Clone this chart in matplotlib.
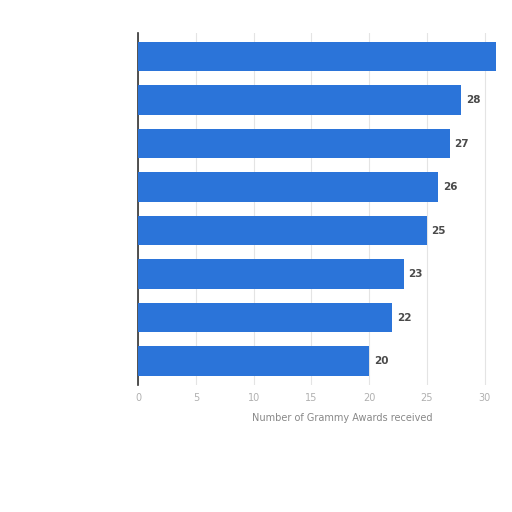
import matplotlib
matplotlib.use('Agg')
import matplotlib.pyplot as plt

values = [31, 28, 27, 26, 25, 23, 22, 20]
ticks = [0, 5, 10, 15, 20, 25, 30]
xmax = 31

fig = plt.figure(figsize=(5.12, 5.12), dpi=100)
ax = fig.add_axes([0.27, 0.248, 0.699, 0.688])

pos = list(range(len(values)))[::-1]
ax.barh(pos, values, height=0.68, color='#2b74d9', zorder=3)
for p, v in zip(pos, values):
    # top bar runs to the edge of the plot, its label is not shown
    if v < xmax:
        ax.text(v + 0.4, p, str(v), va='center', ha='left', fontsize=7.5,
                fontweight='bold', color='#4a4a4a')

ax.set_xlim(0, xmax)
ax.set_ylim(-0.55, len(values) - 0.45)
ax.set_xticks(ticks)
ax.set_xticklabels([str(t) for t in ticks], color='#b0b0b0', fontsize=7)
ax.set_yticks([])
ax.tick_params(axis='x', length=0, pad=6)
ax.grid(axis='x', color='#e4e4e4', linewidth=0.8, zorder=0)
for s in ['top', 'right', 'bottom']:
    ax.spines[s].set_visible(False)
ax.spines['left'].set_color('#333333')
ax.spines['left'].set_linewidth(1.2)

ax.set_xlabel('Number of Grammy Awards received', fontsize=7, color='#888888')
ax.xaxis.set_label_coords(0.57, -0.08)

fig.savefig('out.png', dpi=100)
